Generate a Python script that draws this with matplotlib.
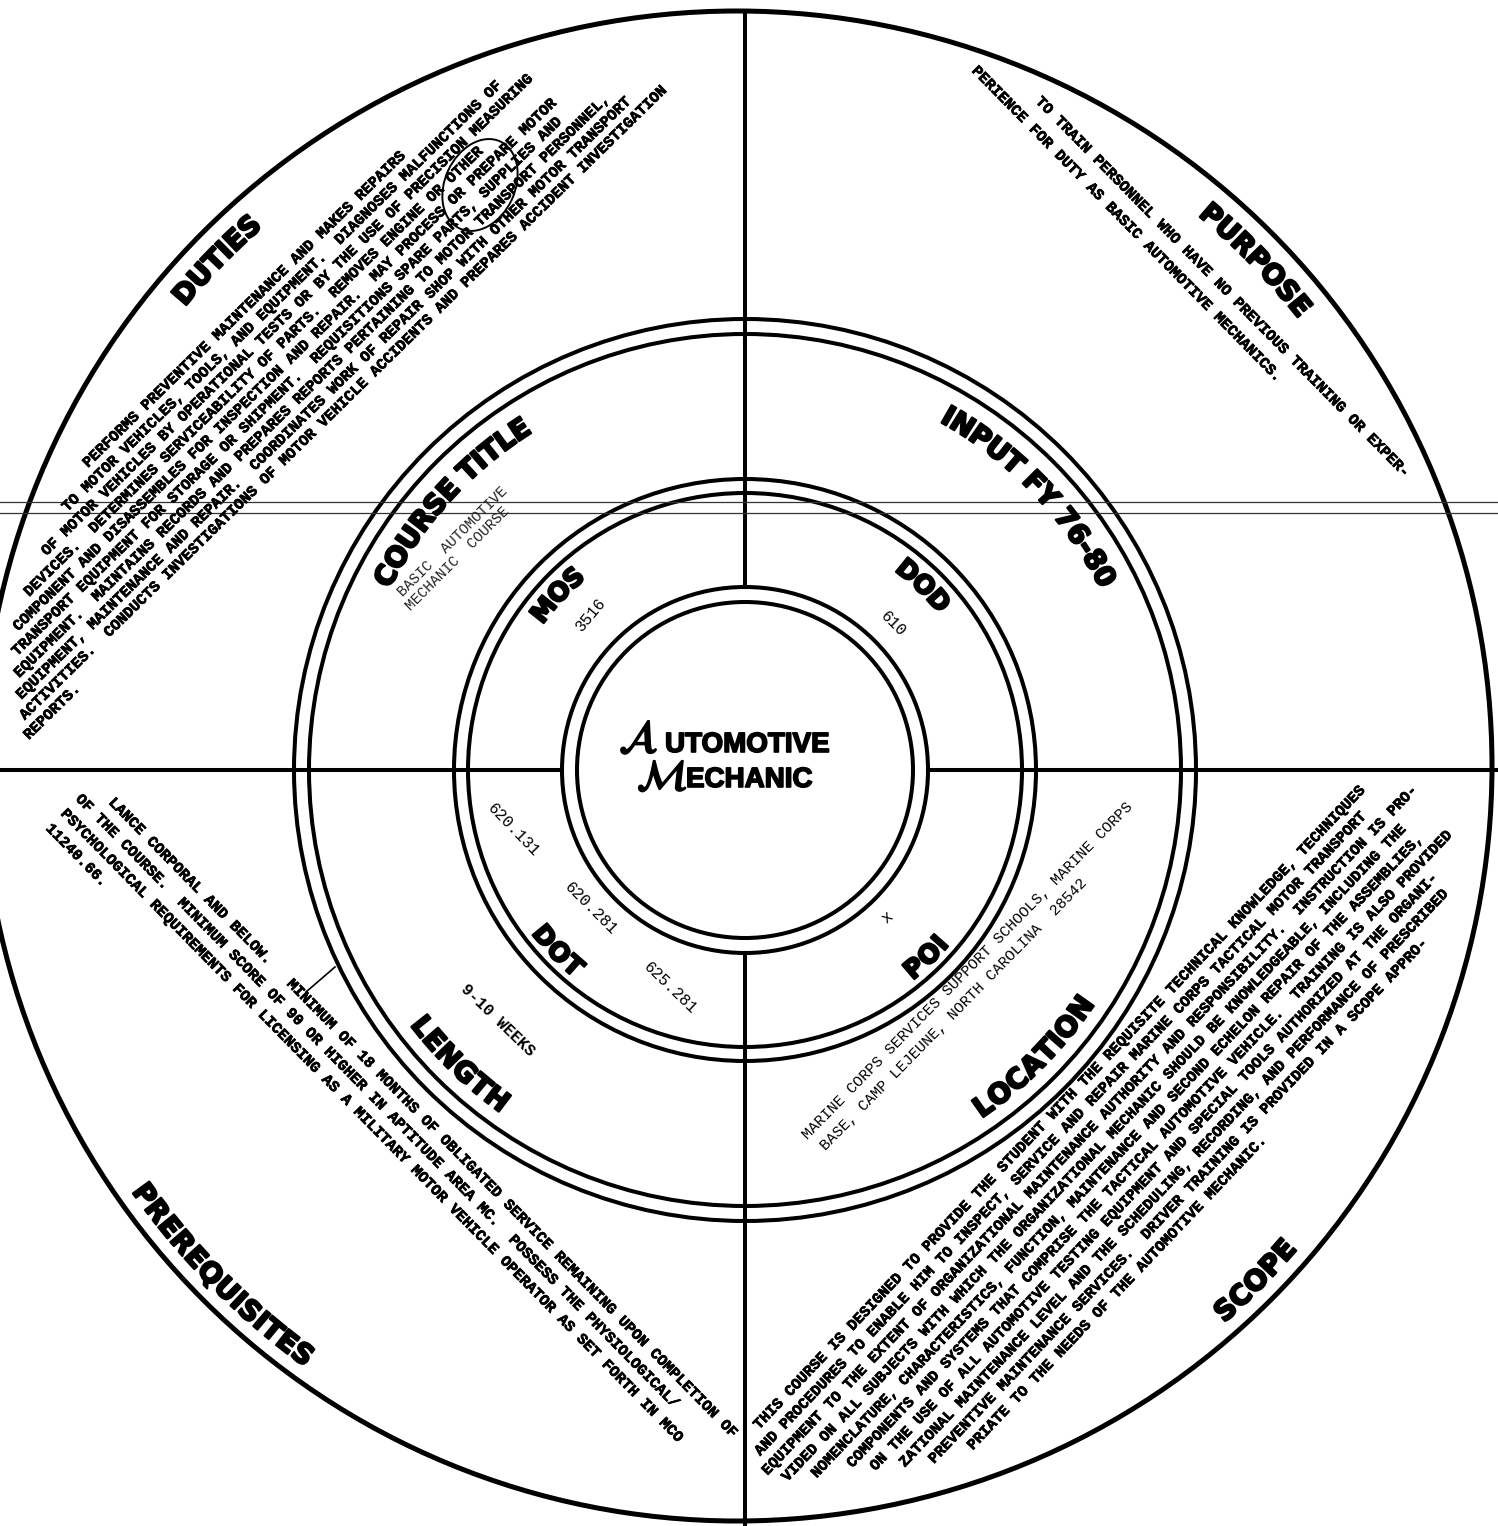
import numpy as np
import matplotlib.pyplot as plt
import matplotlib.patheffects as pe
from matplotlib.patches import Circle, Ellipse
from matplotlib.font_manager import FontProperties

plt.rcParams['mathtext.fontset'] = 'stix'

W, H = 1498, 1526

# ring geometry (pixels)
CX, CY = 745, 770
OCX, OCY, OR = 737, 766, 755          # outer circle sits a little off centre
ring_radii = [451, 436, 291, 277, 183, 168]

# headings on the three bands
outer_heads = ['DUTIES', 'PURPOSE', 'PREREQUISITES', 'SCOPE']
outer_angles = [135.8, 44.3, -135.3, -44.8]
ringA_heads = ['COURSE TITLE', 'INPUT FY 76-80', 'LENGTH', 'LOCATION']
ringA_angles = [137.6, 43.9, -134.1, -44.8]
ringB_heads = ['MOS', 'DOD', 'DOT', 'POI']
ringB_angles = [137.0, 46.0, -136.0, -46.0]

# short entries in the inner bands
mos_value = '3516'
dod_value = '610'
dot_values = ['620.131', '620.281', '625.281']
poi_value = 'x'
length_value = '9-10 WEEKS'
course_title = ['BASIC  AUTOMOTIVE', 'MECHANIC  COURSE']
location_lines = ['MARINE CORPS SERVICES SUPPORT SCHOOLS, MARINE CORPS',
                  'BASE, CAMP LEJEUNE, NORTH CAROLINA  28542']

duties_lines = [
    'PERFORMS PREVENTIVE MAINTENANCE AND MAKES REPAIRS',
    'TO MOTOR VEHICLES, TOOLS, AND EQUIPMENT.  DIAGNOSES MALFUNCTIONS OF',
    'OF MOTOR VEHICLES BY OPERATIONAL TESTS OR BY THE USE OF PRECISION MEASURING',
    'DEVICES.  DETERMINES SERVICEABILITY OF PARTS.  REMOVES ENGINE OR OTHER',
    'COMPONENT AND DISASSEMBLES FOR INSPECTION AND REPAIR.  MAY PROCESS OR PREPARE MOTOR',
    'TRANSPORT EQUIPMENT FOR STORAGE OR SHIPMENT.  REQUISITIONS SPARE PARTS, SUPPLIES AND',
    'EQUIPMENT.  MAINTAINS RECORDS AND PREPARES REPORTS PERTAINING TO MOTOR TRANSPORT PERSONNEL,',
    'EQUIPMENT, MAINTENANCE AND REPAIR.  COORDINATES WORK OF REPAIR SHOP WITH OTHER MOTOR TRANSPORT',
    'ACTIVITIES.  CONDUCTS INVESTIGATIONS OF MOTOR VEHICLE ACCIDENTS AND PREPARES ACCIDENT INVESTIGATION',
    'REPORTS.',
]
purpose_lines = [
    'TO TRAIN PERSONNEL WHO HAVE NO PREVIOUS TRAINING OR EXPER-',
    'PERIENCE FOR DUTY AS BASIC AUTOMOTIVE MECHANICS.',
]
prereq_lines = [
    'LANCE CORPORAL AND BELOW.   MINIMUM OF 18 MONTHS OF OBLIGATED SERVICE REMAINING UPON COMPLETION OF',
    'OF THE COURSE.  MINIMUM SCORE OF 90 OR HIGHER IN APTITUDE AREA MC.  POSSESS THE PHYSIOLOGICAL/',
    'PSYCHOLOGICAL REQUIREMENTS FOR LICENSING AS A MILITARY MOTOR VEHICLE OPERATOR AS SET FORTH IN MCO',
    '11240.66.',
]
scope_lines = [
    'THIS COURSE IS DESIGNED TO PROVIDE THE STUDENT WITH THE REQUISITE TECHNICAL KNOWLEDGE, TECHNIQUES',
    'AND PROCEDURES TO ENABLE HIM TO INSPECT, SERVICE AND REPAIR MARINE CORPS TACTICAL MOTOR TRANSPORT',
    'EQUIPMENT TO THE EXTENT OF ORGANIZATIONAL MAINTENANCE AUTHORITY AND RESPONSIBILITY.  INSTRUCTION IS PRO-',
    'VIDED ON ALL SUBJECTS WITH WHICH THE ORGANIZATIONAL MECHANIC SHOULD BE KNOWLEDGEABLE, INCLUDING THE',
    'NOMENCLATURE, CHARACTERISTICS, FUNCTION, MAINTENANCE AND SECOND ECHELON REPAIR OF THE ASSEMBLIES,',
    'COMPONENTS AND SYSTEMS THAT COMPRISE THE TACTICAL AUTOMOTIVE VEHICLE.  TRAINING IS ALSO PROVIDED',
    'ON THE USE OF ALL AUTOMOTIVE TESTING EQUIPMENT AND SPECIAL TOOLS AUTHORIZED AT THE ORGANI-',
    'ZATIONAL MAINTENANCE LEVEL AND THE SCHEDULING, RECORDING, AND PERFORMANCE OF PRESCRIBED',
    'PREVENTIVE MAINTENANCE SERVICES.  DRIVER TRAINING IS PROVIDED IN A SCOPE APPRO-',
    'PRIATE TO THE NEEDS OF THE AUTOMOTIVE MECHANIC.',
]

MONO = 'Liberation Mono'
HEAD = 'DejaVu Sans'
heavy = [pe.withStroke(linewidth=1.6, foreground='black')]

fig = plt.figure(figsize=(W / 100, H / 100), dpi=100)
ax = fig.add_axes([0, 0, 1, 1])
ax.set_xlim(0, W)
ax.set_ylim(H, 0)
ax.axis('off')
renderer = fig.canvas.get_renderer()


def text_w(s, fp):
    return renderer.get_text_width_height_descent(s, fp, ismath=False)[0]


def arc_text(s, cx, cy, r, mid, size, clockwise):
    fp = FontProperties(family=HEAD, weight='bold', size=size)
    base = text_w('HH', fp)
    ws = [text_w('H' + c + 'H', fp) - base for c in s]
    span = sum(ws) / r
    pos = 0.0
    for c, w in zip(s, ws):
        off = (pos + w / 2) / r
        pos += w
        if clockwise:
            a = np.radians(mid) + span / 2 - off
            rot = np.degrees(a) - 90
        else:
            a = np.radians(mid) - span / 2 + off
            rot = np.degrees(a) + 90
        ax.text(cx + r * np.cos(a), cy - r * np.sin(a), c, fontproperties=fp,
                rotation=rot, rotation_mode='anchor', ha='center',
                va='center_baseline', path_effects=heavy)


def typed(x0, y0, angle, lines, shifts, spacing, size=10.9, weight='bold',
          color='black', ink=0.5):
    fp = FontProperties(family=MONO, weight=weight, size=size)
    pitch = text_w('M' * 20, fp) / 20
    th = np.radians(angle)
    u = np.array([np.cos(th), -np.sin(th)])
    d = np.array([np.sin(th), np.cos(th)])
    fx = [pe.withStroke(linewidth=ink, foreground=color)] if ink else None
    for i, (s, sh) in enumerate(zip(lines, shifts)):
        p = np.array([x0, y0]) + i * spacing * d + sh * pitch * u
        ax.text(p[0], p[1], s, fontproperties=fp, rotation=angle,
                rotation_mode='anchor', ha='left', va='baseline', color=color,
                path_effects=fx)


def label(x, y, s, angle, size=11.5, weight='normal'):
    ax.text(x, y, s, family=MONO, weight=weight, size=size, rotation=angle,
            rotation_mode='anchor', ha='center', va='center')


# circles and cross
ax.add_patch(Circle((OCX, OCY), OR, fill=False, lw=3.6, color='black'))
for r in ring_radii:
    ax.add_patch(Circle((CX, CY), r, fill=False, lw=2.9, color='black'))
inner = ring_radii[-2]
ax.plot([CX, CX], [OCY - OR, CY - inner], color='black', lw=2.9)
ax.plot([CX, CX], [CY + inner, H], color='black', lw=2.9)
ax.plot([0, CX - inner], [CY, CY], color='black', lw=2.9)
ax.plot([CX + inner, W], [CY, CY], color='black', lw=2.9)

# scanner streaks
for y in (502, 513):
    ax.plot([0, W], [y, y], color='#333333', lw=0.9)

# headings
for s, a in zip(outer_heads, outer_angles):
    arc_text(s, OCX, OCY, 729, a, 20, a > 0)
for s, a in zip(ringA_heads, ringA_angles):
    arc_text(s, CX, CY, 410, a, 20, a > 0)
for s, a in zip(ringB_heads, ringB_angles):
    arc_text(s, CX, CY, 259, a, 18.5, a > 0)

# typed paragraphs
typed(88, 468, 44.4, duties_lines, [0, -5, -10, -14.5, -18, -20, -21.5, -23, -24.3, -25.5], 17)
typed(1035, 102, -45.5, purpose_lines, [0, -7.3], 24)
typed(108, 803, -45.5, prereq_lines, [0, -2.8, -2.8, -2.8], 21)
typed(759, 1430, 46.5, scope_lines, [0, -2, -3, -2, 0.5, 4, 5.5, 8, 10.5, 14.5], 18.8)
typed(808, 1140, 45.6, location_lines, [0, 0.5], 20, weight='normal', ink=0)
typed(403, 597, 45, course_title, [0, -0.5], 16, size=10.5, weight='normal',
      color='#222222', ink=0)

# inner band entries
label(591, 614, mos_value, 50)
label(893, 624, dod_value, -45)
for (x, y, a), s in zip([(514, 830, -46), (591, 909, -45), (670, 988, -44)], dot_values):
    label(x, y, s, a)
label(887, 917, poi_value, 40)
label(498, 1020, length_value, -44, weight='bold')

# centre logo
logo_font = ['Liberation Sans', 'DejaVu Sans']
logo_fx = [pe.withStroke(linewidth=1.2, foreground='black')]
ax.text(619, 752, r'$\mathcal{A}$', size=33, ha='left', va='baseline', path_effects=logo_fx)
ax.text(665, 752, 'UTOMOTIVE', size=20, weight='bold', family=logo_font,
        ha='left', va='baseline', path_effects=logo_fx)
ax.text(637, 790, r'$\mathcal{M}$', size=31, ha='left', va='baseline', path_effects=logo_fx)
ax.text(686, 787, 'ECHANIC', size=20, weight='bold', family=logo_font,
        ha='left', va='baseline', path_effects=logo_fx)

# pen marks on the sheet
ax.add_patch(Ellipse((480, 185), 70, 96, angle=25, fill=False, lw=1.4, color='black'))
ax.plot([335, 306], [967, 992], color='black', lw=1.2)

fig.savefig('out.png', dpi=100, facecolor='white')
